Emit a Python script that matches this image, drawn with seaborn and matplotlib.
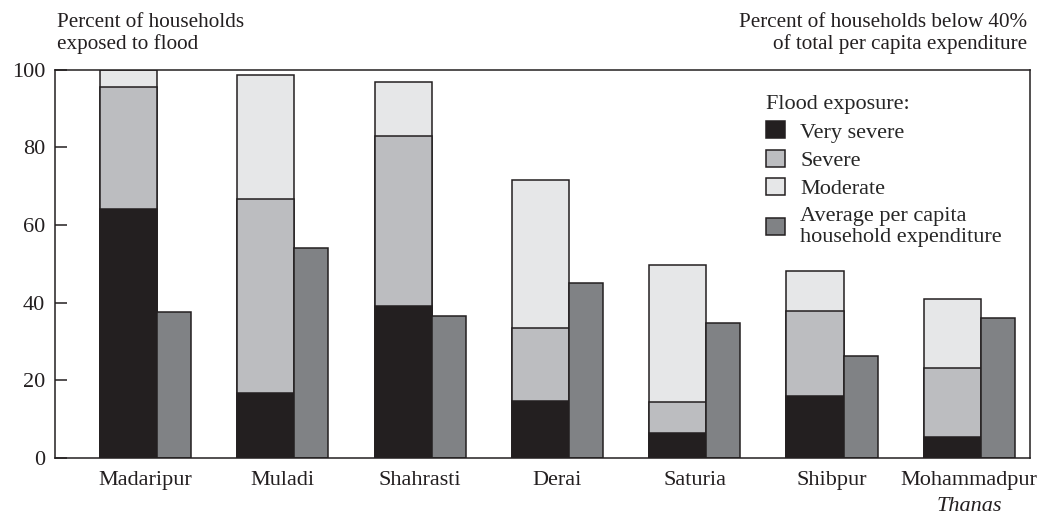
import numpy as np
import pandas as pd
import seaborn as sns
import matplotlib.pyplot as plt
from matplotlib.patches import Patch

thanas = ['Madaripur', 'Muladi', 'Shahrasti', 'Derai', 'Saturia', 'Shibpur', 'Mohammadpur']
very_severe = [64.2, 16.8, 39.2, 14.7, 6.5, 16.0, 5.3]
severe = [31.3, 49.9, 43.7, 18.7, 8.0, 21.8, 18.0]
moderate = [4.5, 31.9, 14.0, 38.3, 35.1, 10.4, 17.7]
expenditure = [37.7, 54.1, 36.7, 45.0, 34.7, 26.4, 36.0]

c_vs = '#231f20'
c_sev = '#bcbdc0'
c_mod = '#e6e7e8'
c_exp = '#808285'
edge = '#231f20'

sns.set_theme(style="ticks")
plt.rcParams['font.family'] = ['Liberation Serif', 'DejaVu Serif']
plt.rcParams['font.size'] = 16

# stacked flood bars drawn as overlapping cumulative totals
pos = np.arange(len(thanas))
df = pd.DataFrame({
    'thana': thanas,
    'flood_pos': pos - 0.124,
    'exp_pos': pos + 0.208,
    'vs_top': np.array(very_severe),
    'sev_top': np.array(very_severe) + np.array(severe),
    'mod_top': np.array(very_severe) + np.array(severe) + np.array(moderate),
    'exp': expenditure,
})

fig = plt.figure(figsize=(10.39, 5.17), dpi=100)
ax = fig.add_axes([0.053, 0.114, 0.938, 0.751])

bar_kw = dict(native_scale=True, orient='x', errorbar=None, saturation=1,
              edgecolor=edge, linewidth=1.1, ax=ax)
sns.barplot(data=df, x='flood_pos', y='mod_top', width=0.416, color=c_mod, **bar_kw)
sns.barplot(data=df, x='flood_pos', y='sev_top', width=0.416, color=c_sev, **bar_kw)
sns.barplot(data=df, x='flood_pos', y='vs_top', width=0.416, color=c_vs, **bar_kw)
sns.barplot(data=df, x='exp_pos', y='exp', width=0.248, color=c_exp, **bar_kw)

ax.set_xlim(-0.66, 6.44)
ax.set_ylim(0, 100)
ax.set_yticks([0, 20, 40, 60, 80, 100])
ax.set_xticks(pos, thanas)
ax.set_xlabel('')
ax.set_ylabel('')
ax.tick_params(axis='y', direction='in', length=8.5, width=1.1, color=edge,
               pad=7, labelsize=16, labelcolor=edge)
ax.tick_params(axis='x', length=0, pad=9, labelsize=16, labelcolor=edge)
for s in ax.spines.values():
    s.set_visible(True)
    s.set_color(edge)
    s.set_linewidth(1.1)

fig.text(57 / 1039, 1 - 13 / 517, 'Percent of households\nexposed to flood',
         ha='left', va='top', fontsize=15.2, linespacing=1.15, color=edge)
fig.text(1027 / 1039, 1 - 13 / 517,
         'Percent of households below 40%\nof total per capita expenditure',
         ha='right', va='top', fontsize=15.2, linespacing=1.15, color=edge,
         multialignment='right')
ax.annotate('Thanas', xy=(pos[-1], 0), xycoords=('data', 'figure fraction'),
            xytext=(0, 1), textcoords=('offset points', 'figure pixels'),
            ha='center', va='bottom', fontsize=16, style='italic', color=edge)

handles = [Patch(facecolor=c, edgecolor=edge, linewidth=1.1)
           for c in [c_vs, c_sev, c_mod, c_exp]]
labels = ['Very severe', 'Severe', 'Moderate',
          'Average per capita\nhousehold expenditure']
leg = ax.legend(handles, labels, title='Flood exposure:', loc='upper left',
                bbox_to_anchor=(0.714, 0.975), frameon=False, fontsize=16,
                title_fontsize=16, alignment='left', handlelength=0.82,
                handleheight=0.82, handletextpad=0.7, labelspacing=0.32,
                borderpad=0.2)

fig.savefig('out.png', dpi=100)
